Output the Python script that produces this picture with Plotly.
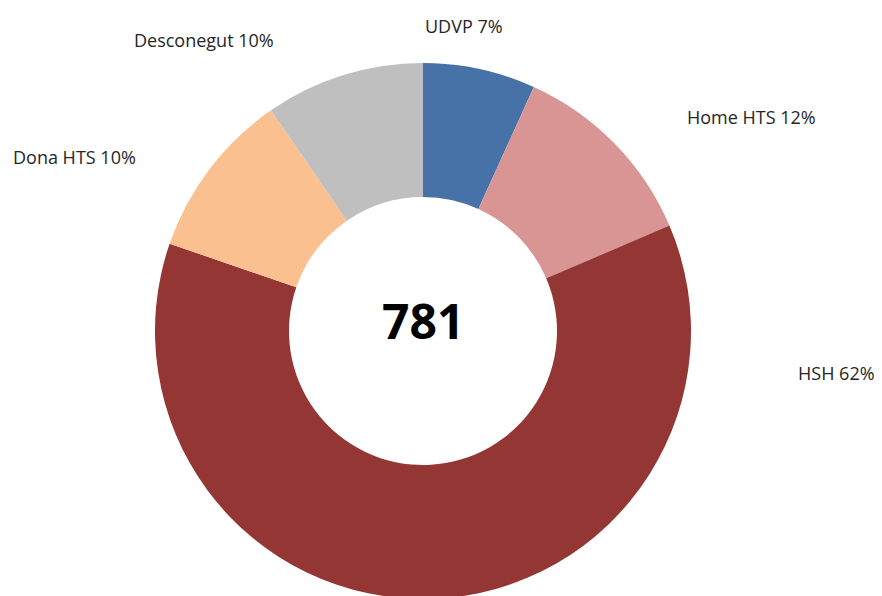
import plotly.graph_objects as go

W, H = 882, 596
OFF = 8  # page body margin offset

categories = ["UDVP", "Home HTS", "HSH", "Dona HTS", "Desconegut"]
counts = [53, 92, 482, 79, 75]
percent_labels = ["7%", "12%", "62%", "10%", "10%"]
total_label = "781"

colors = ["#4672A8", "#D99594", "#943634", "#FAC090", "#BFBFBF"]
# label anchor positions in page pixels (centre of text)
label_px = [(464, 26), (751, 117), (836, 373), (74, 157), (204, 40)]

cx, cy, r = 423 - OFF, 331 - OFF, 268

fig = go.Figure(go.Pie(
    labels=categories,
    values=counts,
    hole=0.5,
    sort=False,
    direction="clockwise",
    rotation=0,
    marker=dict(colors=colors, line=dict(width=0)),
    textinfo="none",
    hoverinfo="label+value+percent",
    domain=dict(x=[(cx - r) / W, (cx + r) / W],
                y=[max(0.0, (H - cy - r) / H), min(1.0, (H - cy + r) / H)]),
    showlegend=False,
))

annotations = []
for cat, pl, (px, py) in zip(categories, percent_labels, label_px):
    annotations.append(dict(
        text=f"{cat} {pl}", x=(px - OFF) / W, y=1 - (py - OFF) / H, xref="paper", yref="paper",
        showarrow=False, xanchor="center", yanchor="middle",
        font=dict(family="Open Sans", size=18, color="#262626"),
    ))
annotations.append(dict(
    text=f"<b>{total_label}</b>", x=cx / W, y=1 - (320 - OFF) / H, xref="paper", yref="paper",
    showarrow=False, xanchor="center", yanchor="middle",
    font=dict(family="Open Sans", size=48, color="#000000"),
))

fig.update_layout(
    width=W, height=H,
    margin=dict(l=0, r=0, t=0, b=0),
    paper_bgcolor="white", plot_bgcolor="white",
    annotations=annotations,
)

fig.write_html("out.html")
